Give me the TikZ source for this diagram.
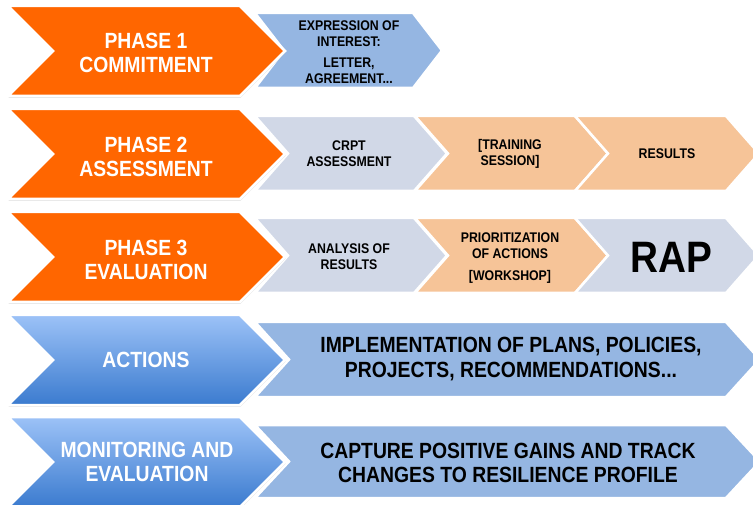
\documentclass[tikz,border=0pt]{standalone}
\usepackage{fontspec}
\setmainfont{Liberation Sans}[FakeStretch=0.88]
\usetikzlibrary{shadows}
\definecolor{orng}{HTML}{FF6600}
\definecolor{lblue}{HTML}{95B6E2}
\definecolor{gblue}{HTML}{D1D8E7}
\definecolor{peach}{HTML}{F6C498}
\definecolor{gradtop}{HTML}{9CC2F7}
\definecolor{gradbot}{HTML}{3B7BCF}
\newcommand\chevshape[6]{% style, x0, x1, top, bot, d
  \path[#1] (#2,#4) -- (#3,#4) -- ({#3+#6},{(#4+#5)/2}) -- (#3,#5) -- (#2,#5) -- ({#2+#6},{(#4+#5)/2}) -- cycle;}
\tikzset{
  chevbase/.style={draw=white, line width=2.5pt, line join=miter},
  softshadow/.style={drop shadow={shadow xshift=0.6pt, shadow yshift=-1.6pt, opacity=0.3}},
  orangechev/.style={chevbase, fill=orng, softshadow},
  bluechev/.style={chevbase, top color=gradtop, bottom color=gradbot, softshadow},
  lbchev/.style={chevbase, fill=lblue},
  graychev/.style={chevbase, fill=gblue},
  peachchev/.style={chevbase, fill=peach},
  headtext/.style={text=white, font=\bfseries\fontsize{22}{24.5}\selectfont, align=center, inner sep=0pt},
  smalltext/.style={text=black, font=\bfseries\fontsize{14}{16}\selectfont, align=center, inner sep=0pt},
  bigtext/.style={text=black, font=\bfseries\fontsize{22}{24.5}\selectfont, align=center, inner sep=0pt},
  raptext/.style={text=black, font=\bfseries\fontsize{44}{48}\selectfont, inner sep=0pt}
}
\begin{document}
\begin{tikzpicture}[x=1pt,y=-1pt]
\useasboundingbox[fill=white] (0,0) rectangle (753,505);
% Row 1
\chevshape{lbchev}{255}{413}{13}{88}{29}
\chevshape{orangechev}{8}{240}{6}{96}{45}
% Row 2
\chevshape{graychev}{255}{414}{116}{191}{33}
\chevshape{peachchev}{415}{575}{116}{191}{33}
\chevshape{peachchev}{575}{726}{116}{191}{33}
\chevshape{orangechev}{8}{240}{109}{199}{45}
% Row 3
\chevshape{graychev}{255}{414}{218}{293}{33}
\chevshape{peachchev}{415}{575}{218}{293}{33}
\chevshape{graychev}{575}{726}{218}{293}{33}
\chevshape{orangechev}{8}{240}{212}{302}{45}
% Row 4
\chevshape{lbchev}{255}{726}{322}{397}{34}
\chevshape{bluechev}{8}{240}{315}{405}{45}
% Row 5
\chevshape{lbchev}{255}{726}{425}{498}{34}
\chevshape{bluechev}{8}{240}{417}{507}{45}
% Texts
\node[headtext] (p1) at (146,53) {PHASE 1\\COMMITMENT};
\node[smalltext] (p1a) at (349,52) {EXPRESSION OF\\INTEREST:\\[5pt]LETTER,\\AGREEMENT...};
\node[headtext] (p2) at (146,157) {PHASE 2\\ASSESSMENT};
\node[smalltext] (p2a) at (349,154) {CRPT\\ASSESSMENT};
\node[smalltext] (p2b) at (510,154) {[TRAINING\\SESSION]};
\node[smalltext] (p2c) at (667,154) {RESULTS};
\node[headtext] (p3) at (146,260) {PHASE 3\\EVALUATION};
\node[smalltext] (p3a) at (349,257) {ANALYSIS OF\\RESULTS};
\node[smalltext] (p3b) at (510,258) {PRIORITIZATION\\OF ACTIONS\\[6pt][WORKSHOP]};
\node[raptext] (p3c) at (671,257) {RAP};
\node[headtext] (p4) at (146,360) {ACTIONS};
\node[bigtext] (p4a) at (511,359) {IMPLEMENTATION OF PLANS, POLICIES,\\PROJECTS, RECOMMENDATIONS...};
\node[headtext] (p5) at (147,462) {MONITORING AND\\EVALUATION};
\node[bigtext] (p5a) at (508,463) {CAPTURE POSITIVE GAINS AND TRACK\\CHANGES TO RESILIENCE PROFILE};
\end{tikzpicture}
\end{document}
